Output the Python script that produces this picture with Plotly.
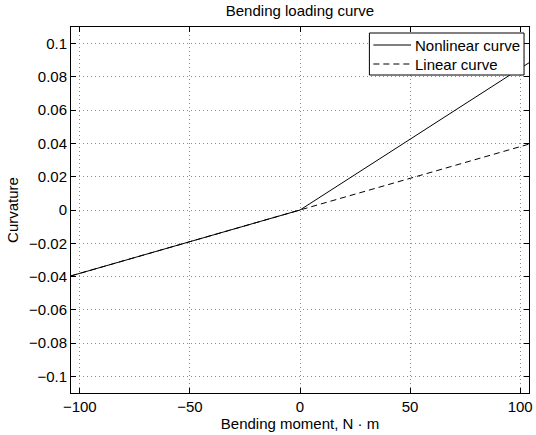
import plotly.graph_objects as go

# Bending moment (N·m) and the resulting curvature
moment = [-104, 0, 104]
curv_nonlinear = [-0.0396, 0.0, 0.0885]
curv_linear = [-0.0396, 0.0, 0.0396]

series_names = ["Nonlinear curve", "Linear curve"]
series_dash = ["solid", "6px,4px"]

x_ticks = [-100, -50, 0, 50, 100]
x_labels = ["\u2212100", "\u221250", "0", "50", "100"]
y_ticks = [-0.1, -0.08, -0.06, -0.04, -0.02, 0, 0.02, 0.04, 0.06, 0.08, 0.1]
y_labels = ["\u22120.1", "\u22120.08", "\u22120.06", "\u22120.04", "\u22120.02", "0",
            "0.02", "0.04", "0.06", "0.08", "0.1"]

FONT = "Liberation Sans, Arial, Helvetica, sans-serif"
W, H = 536, 435
ML, MR, MT, MB = 71, 3, 27, 42
PW, PH = W - ML - MR, H - MT - MB


def px_x(px):
    """Pixel column -> paper x fraction of the plot area."""
    return (px - ML) / PW


def px_y(py):
    """Pixel row -> paper y fraction of the plot area."""
    return (H - MB - py) / PH


fig = go.Figure()
for name, ys, dash in zip(series_names, [curv_nonlinear, curv_linear], series_dash):
    fig.add_trace(go.Scatter(x=moment, y=ys, mode="lines", name=name,
                             showlegend=False,
                             line=dict(color="black", width=1, dash=dash)))

axis_common = dict(
    showline=True, linecolor="black", linewidth=1, mirror="allticks",
    ticks="inside", ticklen=5, tickcolor="black", tickwidth=1,
    showgrid=True, gridcolor="#8c8c8c", griddash="1px,3px", gridwidth=1,
    zeroline=False, ticklabeloverflow="allow",
    tickfont=dict(size=15, color="black", family=FONT),
)

fig.update_xaxes(range=[-104, 104], tickvals=x_ticks, ticktext=x_labels,
                 title=dict(text="Bending moment, N \u00b7 m", standoff=2,
                            font=dict(size=15, color="black", family=FONT)),
                 **axis_common)
fig.update_yaxes(range=[-0.11, 0.11], tickvals=y_ticks, ticktext=y_labels,
                 title=dict(text="Curvature", standoff=6,
                            font=dict(size=15, color="black", family=FONT)),
                 **axis_common)

# Boxed legend in the upper-right corner of the axes
shapes = [dict(type="rect", xref="paper", yref="paper",
               x0=px_x(372), x1=px_x(528), y0=px_y(75), y1=px_y(33),
               line=dict(color="black", width=1), fillcolor="white", layer="above")]
annotations = []
for i, (name, dash) in enumerate(zip(series_names, series_dash)):
    row_y = px_y(45 + 19 * i)
    shapes.append(dict(type="line", xref="paper", yref="paper",
                       x0=px_x(376), x1=px_x(414), y0=row_y, y1=row_y,
                       line=dict(color="black", width=1, dash=dash), layer="above"))
    annotations.append(dict(text=name, xref="paper", yref="paper",
                            x=px_x(416), y=row_y, xanchor="left", yanchor="middle",
                            showarrow=False,
                            font=dict(size=15, color="black", family=FONT)))

fig.update_layout(
    width=W, height=H,
    margin=dict(l=ML, r=MR, t=MT, b=MB),
    paper_bgcolor="white", plot_bgcolor="white",
    font=dict(family=FONT, size=15, color="black"),
    title=dict(text="Bending loading curve", x=0.5, xref="paper", xanchor="center",
               y=1 - 11 / H, yanchor="middle",
               font=dict(size=15, color="black", family=FONT)),
    shapes=shapes, annotations=annotations,
    showlegend=False,
)

fig.write_html("out.html")
